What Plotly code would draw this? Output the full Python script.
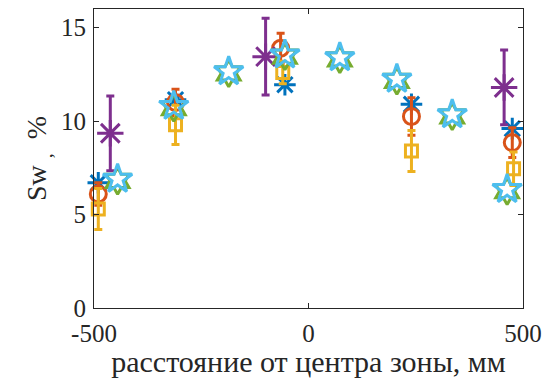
import plotly.graph_objects as go

# Series data
blue_x = [-490, -310, -55, 240, 475]
blue_y = [6.7, 11.15, 11.95, 10.9, 9.6]

orange_x = [-490, -310, -65, 240, 475]
orange_y = [6.1, 11.0, 13.9, 10.25, 8.85]
orange_err = [0.6, 0.7, 0.8, 1.0, 0.8]

yellow_x = [-490, -310, -60, 240, 478]
yellow_y = [5.3, 9.8, 12.6, 8.4, 7.45]
yellow_err = [1.1, 1.05, 0.6, 1.1, 0.9]

purple_x = [-462, -100, 456]
purple_y = [9.35, 13.45, 11.8]
purple_err = [2.0, 2.05, 2.0]

star_x = [-445, -314, -186, -55, 73, 206, 335, 463]
green_y = [6.8, 10.7, 12.55, 13.45, 13.3, 12.15, 10.25, 6.25]
cyan_y = [6.9, 10.8, 12.65, 13.55, 13.4, 12.25, 10.35, 6.35]

x_ticks = [-500, 0, 500]
y_ticks = [0, 5, 10, 15]

BLUE = "#0072BD"
ORANGE = "#D95319"
YELLOW = "#EDB120"
PURPLE = "#7E2F8E"
GREEN = "#77AC30"
CYAN = "#4DBEEE"

FONT = "Liberation Serif"
LW = 3

fig = go.Figure()


def add(x, y, color, symbol, size, err=None):
    kw = {}
    if err is not None:
        kw["error_y"] = dict(type="data", array=err, visible=True, color=color,
                             thickness=LW, width=4)
    fig.add_trace(go.Scatter(
        x=x, y=y, mode="markers", cliponaxis=False,
        marker=dict(symbol=symbol, size=size, color=color,
                    line=dict(color=color, width=LW)),
        showlegend=False, **kw))


add(blue_x, blue_y, BLUE, "asterisk-open", 18)
add(orange_x, orange_y, ORANGE, "circle-open", 16, orange_err)
add(yellow_x, yellow_y, YELLOW, "square-open", 12, yellow_err)
add(purple_x, purple_y, PURPLE, "asterisk-open", 22, purple_err)
add(star_x, green_y, GREEN, "hexagram-open", 20)
add(star_x, cyan_y, CYAN, "star-open", 22)

axis_common = dict(
    showline=True, linecolor="#262626", linewidth=1, mirror="ticks",
    ticks="inside", ticklen=5, tickcolor="#262626", tickwidth=1,
    showgrid=False, zeroline=False,
    tickfont=dict(family=FONT, size=25, color="#262626"),
)

fig.update_xaxes(range=[-500, 500], tickvals=x_ticks,
                 ticktext=[str(v) for v in x_ticks],
                 ticklabelstandoff=3,
                 title=dict(text="расстояние от центра зоны, мм",
                            font=dict(family=FONT, size=30, color="#262626"),
                            standoff=0),
                 **axis_common)
fig.update_yaxes(range=[0, 16], tickvals=y_ticks,
                 ticktext=[str(v) for v in y_ticks],
                 ticklabelstandoff=2,
                 title=dict(text="Sw <sub>,</sub>  %",
                            font=dict(family=FONT, size=28, color="#262626"),
                            standoff=6),
                 **axis_common)

fig.update_layout(
    width=551, height=378,
    margin=dict(l=94, r=28, t=9, b=70),
    paper_bgcolor="white", plot_bgcolor="white",
    font=dict(family=FONT, color="#262626"),
)

fig.write_html("out.html")
